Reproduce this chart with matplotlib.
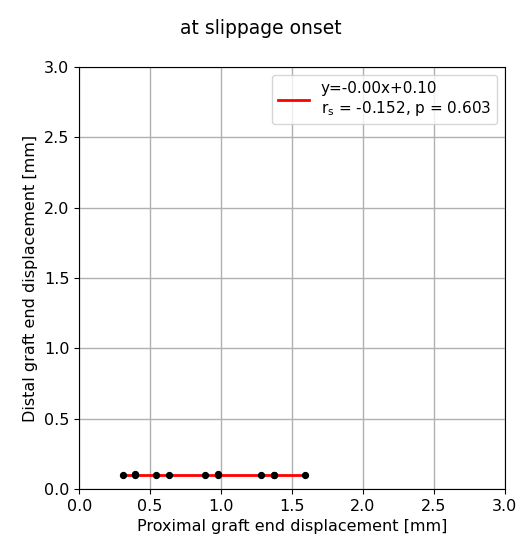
import numpy as np
import matplotlib
matplotlib.use("Agg")
import matplotlib.pyplot as plt

# proximal / distal graft end displacement at slippage onset [mm]
proximal = [0.31, 0.39, 0.39, 0.54, 0.63, 0.89, 0.98, 0.98, 1.28, 1.37, 1.37, 1.59]
distal = [0.10, 0.10, 0.105, 0.10, 0.10, 0.10, 0.10, 0.105, 0.10, 0.10, 0.102, 0.10]
slope = -0.00
intercept = 0.10
fit_label = "y=-0.00x+0.10\nr$_\\mathrm{s}$ = -0.152, p = 0.603"

fig = plt.figure(figsize=(5.21, 5.47), dpi=100)
ax = fig.add_axes([0.152, 0.106, 0.817, 0.7715])

ax.scatter(proximal, distal, color="black", s=18, zorder=3)
xfit = np.array([min(proximal), max(proximal)])
ax.plot(xfit, slope * xfit + intercept, color="red", lw=2, label=fit_label, zorder=2)

ax.set_xlim(0, 3)
ax.set_ylim(0, 3)
ax.set_xticks(np.arange(0, 3.01, 0.5))
ax.set_yticks(np.arange(0, 3.01, 0.5))
ax.grid(True, color="#b0b0b0", lw=1)
ax.set_axisbelow(True)
ax.set_xlabel("Proximal graft end displacement [mm]", fontsize=11.5)
ax.set_ylabel("Distal graft end displacement [mm]", fontsize=11.5)
ax.tick_params(labelsize=11.5)
ax.legend(loc="upper right", fontsize=11)

fig.suptitle("at slippage onset", fontsize=13.5, y=0.965)

fig.savefig("out.png", dpi=100)
